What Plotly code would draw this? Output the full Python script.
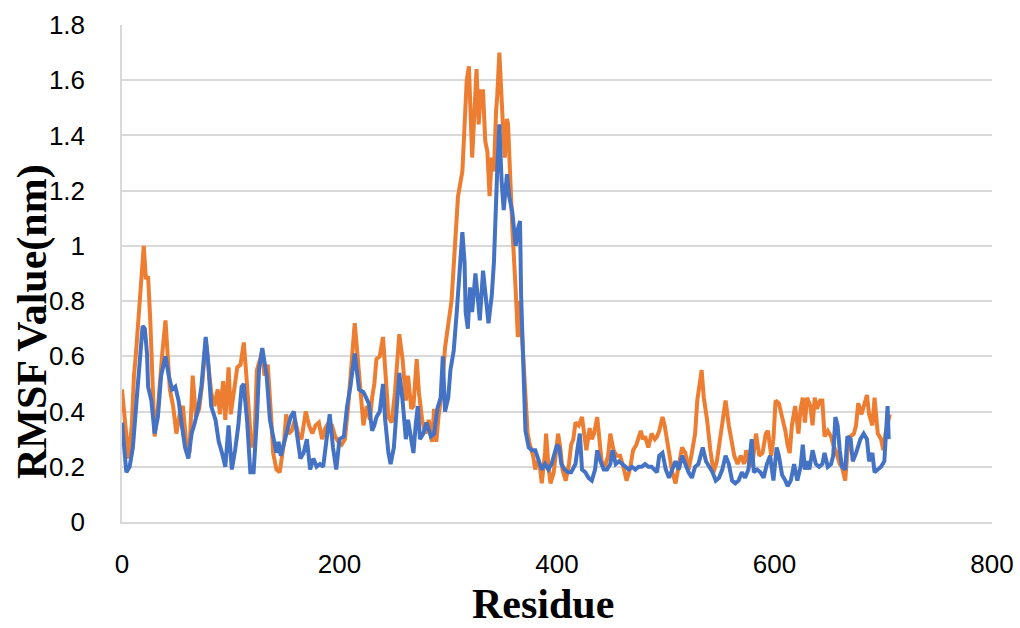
import plotly.graph_objects as go

# ---------------- data ----------------
res_blue = [0, 3, 4, 7, 10, 13, 17, 19, 21, 23, 24, 27, 30, 33, 36, 40, 43, 46, 49, 52, 55, 58, 61, 64, 67, 70, 73, 77, 79, 82, 86, 89, 92, 95, 98, 101, 104, 107, 110, 112, 113, 115, 118, 121, 124, 126, 129, 131, 133, 136, 139, 142, 144, 146, 148, 151, 155, 158, 161, 164, 167, 170, 173, 176, 179, 182, 185, 188, 191, 194, 197, 200, 204, 207, 210, 214, 218, 222, 227, 230, 232, 234, 237, 240, 242, 245, 247, 250, 253, 255, 258, 261, 263, 265, 268, 270, 272, 274, 277, 280, 284, 287, 290, 293, 295, 297, 300, 302, 305, 308, 311, 313, 315, 316, 318, 320, 322, 325, 327, 329, 332, 334, 337, 340, 342, 345, 347, 349, 351, 354, 356, 359, 362, 364, 366, 367, 369, 371, 374, 377, 380, 383, 386, 389, 392, 395, 398, 400, 402, 404, 407, 410, 413, 417, 419, 421, 423, 426, 429, 432, 435, 437, 440, 443, 446, 449, 451, 454, 457, 460, 463, 466, 469, 472, 475, 478, 481, 484, 487, 490, 492, 494, 497, 500, 503, 506, 509, 512, 515, 518, 521, 524, 527, 530, 534, 537, 540, 543, 546, 549, 552, 555, 558, 561, 564, 567, 570, 573, 576, 579, 581, 584, 587, 590, 593, 596, 599, 602, 604, 607, 610, 612, 615, 618, 621, 624, 626, 628, 630, 632, 635, 638, 641, 644, 646, 649, 652, 654, 656, 658, 660, 662, 665, 667, 670, 672, 675, 679, 682, 685, 687, 690, 692, 695, 698, 701, 703, 704, 705]
rmsf_blue = [0.36, 0.20, 0.18, 0.20, 0.27, 0.42, 0.61, 0.71, 0.70, 0.61, 0.49, 0.44, 0.32, 0.38, 0.53, 0.60, 0.53, 0.48, 0.49, 0.44, 0.35, 0.27, 0.23, 0.32, 0.36, 0.41, 0.49, 0.67, 0.59, 0.42, 0.37, 0.29, 0.25, 0.20, 0.35, 0.19, 0.26, 0.35, 0.49, 0.50, 0.45, 0.37, 0.18, 0.18, 0.37, 0.55, 0.63, 0.57, 0.53, 0.37, 0.30, 0.25, 0.29, 0.24, 0.27, 0.32, 0.38, 0.40, 0.31, 0.23, 0.25, 0.30, 0.19, 0.23, 0.20, 0.21, 0.20, 0.31, 0.39, 0.27, 0.19, 0.30, 0.31, 0.42, 0.49, 0.61, 0.48, 0.47, 0.43, 0.33, 0.35, 0.38, 0.40, 0.50, 0.37, 0.25, 0.21, 0.27, 0.42, 0.54, 0.44, 0.30, 0.37, 0.32, 0.25, 0.35, 0.42, 0.30, 0.32, 0.36, 0.31, 0.32, 0.41, 0.45, 0.60, 0.40, 0.45, 0.55, 0.62, 0.77, 0.96, 1.05, 0.94, 0.76, 0.70, 0.85, 0.76, 0.90, 0.82, 0.73, 0.91, 0.82, 0.72, 0.82, 0.94, 1.27, 1.44, 1.24, 1.13, 1.26, 1.18, 1.12, 1.00, 1.06, 1.09, 0.82, 0.57, 0.33, 0.27, 0.26, 0.26, 0.22, 0.19, 0.21, 0.19, 0.21, 0.25, 0.28, 0.27, 0.21, 0.19, 0.18, 0.18, 0.21, 0.27, 0.32, 0.19, 0.18, 0.16, 0.15, 0.19, 0.26, 0.22, 0.19, 0.19, 0.21, 0.26, 0.21, 0.22, 0.21, 0.20, 0.19, 0.20, 0.19, 0.20, 0.20, 0.21, 0.20, 0.20, 0.19, 0.18, 0.24, 0.25, 0.19, 0.16, 0.19, 0.22, 0.19, 0.24, 0.21, 0.18, 0.16, 0.20, 0.21, 0.27, 0.22, 0.20, 0.18, 0.15, 0.16, 0.19, 0.24, 0.21, 0.15, 0.14, 0.15, 0.18, 0.16, 0.19, 0.30, 0.18, 0.19, 0.18, 0.16, 0.21, 0.24, 0.15, 0.27, 0.24, 0.17, 0.15, 0.13, 0.15, 0.21, 0.15, 0.20, 0.28, 0.19, 0.22, 0.19, 0.26, 0.21, 0.20, 0.21, 0.25, 0.20, 0.21, 0.24, 0.38, 0.35, 0.26, 0.20, 0.19, 0.31, 0.30, 0.22, 0.25, 0.30, 0.32, 0.30, 0.22, 0.25, 0.18, 0.19, 0.20, 0.22, 0.36, 0.42, 0.30]

res_orange = [0, 3, 6, 9, 11, 13, 16, 18, 20, 22, 24, 26, 28, 30, 33, 36, 37, 40, 42, 44, 47, 50, 53, 56, 59, 62, 65, 68, 71, 74, 77, 79, 82, 85, 88, 90, 93, 95, 98, 100, 103, 106, 109, 112, 114, 116, 119, 122, 124, 127, 129, 131, 134, 137, 139, 142, 145, 149, 151, 153, 156, 159, 162, 165, 169, 172, 175, 178, 181, 184, 187, 190, 193, 196, 199, 202, 205, 208, 211, 214, 216, 218, 220, 222, 225, 228, 230, 232, 234, 237, 240, 242, 245, 248, 251, 255, 258, 261, 263, 266, 268, 271, 273, 276, 279, 282, 285, 287, 289, 291, 294, 297, 300, 303, 306, 309, 313, 315, 317, 319, 321, 322, 324, 326, 328, 330, 332, 334, 336, 338, 340, 342, 344, 345, 347, 349, 350, 352, 354, 355, 357, 359, 362, 364, 366, 367, 369, 371, 373, 375, 378, 380, 382, 384, 386, 389, 390, 392, 394, 397, 399, 401, 403, 405, 408, 411, 413, 415, 417, 420, 423, 425, 427, 430, 432, 434, 437, 439, 441, 444, 447, 449, 452, 455, 458, 461, 464, 467, 470, 473, 477, 479, 481, 484, 487, 490, 492, 494, 497, 499, 503, 506, 509, 512, 515, 518, 521, 524, 527, 529, 531, 533, 535, 538, 541, 544, 547, 550, 553, 555, 558, 560, 563, 566, 569, 572, 574, 577, 580, 583, 586, 589, 592, 594, 597, 599, 601, 604, 607, 610, 612, 614, 616, 619, 622, 624, 626, 628, 630, 633, 635, 637, 639, 642, 644, 646, 649, 652, 654, 657, 660, 662, 665, 667, 670, 673, 675, 677, 680, 682, 685, 687, 690, 692, 695, 698, 700, 702, 704, 706]
rmsf_orange = [0.48, 0.35, 0.23, 0.35, 0.53, 0.62, 0.79, 0.88, 1.00, 0.88, 0.89, 0.73, 0.47, 0.31, 0.41, 0.59, 0.61, 0.73, 0.61, 0.48, 0.42, 0.32, 0.39, 0.42, 0.29, 0.25, 0.53, 0.38, 0.41, 0.51, 0.66, 0.57, 0.47, 0.42, 0.48, 0.39, 0.51, 0.37, 0.56, 0.39, 0.47, 0.56, 0.57, 0.65, 0.55, 0.42, 0.27, 0.32, 0.55, 0.59, 0.62, 0.53, 0.57, 0.39, 0.25, 0.19, 0.18, 0.29, 0.39, 0.32, 0.33, 0.37, 0.32, 0.30, 0.40, 0.35, 0.32, 0.35, 0.36, 0.30, 0.34, 0.36, 0.35, 0.31, 0.29, 0.28, 0.30, 0.42, 0.59, 0.72, 0.63, 0.53, 0.42, 0.35, 0.42, 0.37, 0.45, 0.50, 0.59, 0.60, 0.67, 0.55, 0.38, 0.36, 0.47, 0.68, 0.59, 0.44, 0.53, 0.41, 0.42, 0.59, 0.47, 0.37, 0.32, 0.37, 0.29, 0.41, 0.29, 0.38, 0.47, 0.63, 0.72, 0.80, 0.99, 1.18, 1.27, 1.48, 1.60, 1.65, 1.42, 1.32, 1.48, 1.64, 1.44, 1.56, 1.56, 1.38, 1.34, 1.18, 1.32, 1.27, 1.49, 1.54, 1.70, 1.50, 1.46, 1.32, 1.46, 1.44, 1.20, 1.06, 0.84, 0.67, 0.80, 0.73, 0.57, 0.45, 0.32, 0.28, 0.24, 0.19, 0.22, 0.21, 0.14, 0.25, 0.32, 0.21, 0.14, 0.18, 0.24, 0.32, 0.27, 0.19, 0.15, 0.21, 0.28, 0.30, 0.36, 0.35, 0.38, 0.32, 0.26, 0.34, 0.30, 0.32, 0.38, 0.30, 0.22, 0.20, 0.24, 0.32, 0.26, 0.24, 0.24, 0.20, 0.15, 0.19, 0.26, 0.28, 0.33, 0.30, 0.31, 0.27, 0.32, 0.30, 0.31, 0.33, 0.38, 0.35, 0.24, 0.18, 0.14, 0.20, 0.27, 0.25, 0.19, 0.25, 0.32, 0.44, 0.51, 0.55, 0.45, 0.37, 0.26, 0.18, 0.22, 0.30, 0.38, 0.44, 0.35, 0.30, 0.24, 0.21, 0.24, 0.21, 0.26, 0.20, 0.22, 0.32, 0.24, 0.25, 0.32, 0.33, 0.24, 0.30, 0.44, 0.43, 0.38, 0.33, 0.28, 0.25, 0.35, 0.42, 0.32, 0.41, 0.45, 0.36, 0.45, 0.42, 0.35, 0.45, 0.41, 0.44, 0.44, 0.31, 0.33, 0.31, 0.28, 0.25, 0.21, 0.20, 0.15, 0.25, 0.31, 0.32, 0.35, 0.43, 0.39, 0.42, 0.46, 0.39, 0.35, 0.45, 0.32, 0.30, 0.26, 0.32, 0.35, 0.39]

x_ticks = [0, 200, 400, 600, 800]
y_ticks = [0, 0.2, 0.4, 0.6, 0.8, 1, 1.2, 1.4, 1.6, 1.8]
x_title = "Residue"
y_title = "RMSF Value(nm)"

BLUE = "#4472C4"
ORANGE = "#ED7D31"

fig = go.Figure()
fig.add_trace(go.Scatter(x=res_orange, y=rmsf_orange, mode="lines",
                         line=dict(color=ORANGE, width=4), name="Series 2",
                         showlegend=False))
fig.add_trace(go.Scatter(x=res_blue, y=rmsf_blue, mode="lines",
                         line=dict(color=BLUE, width=4), name="Series 1",
                         showlegend=False))

tick_font = dict(family="Liberation Sans", size=26, color="#000000")

fig.update_layout(
    width=1020, height=628,
    margin=dict(l=122, r=28, t=25, b=106, autoexpand=False),
    paper_bgcolor="white", plot_bgcolor="white",
    xaxis=dict(range=[0, 800], tickvals=x_ticks, showgrid=False,
               showline=True, linecolor="#D9D9D9", linewidth=1.5,
               zeroline=False, ticks="", tickfont=tick_font,
               ticklabelstandoff=18, automargin=False),
    yaxis=dict(range=[0, 1.8], tickvals=y_ticks,
               ticktext=[("%g" % v) for v in y_ticks],
               showgrid=True, gridcolor="#D9D9D9", gridwidth=1.5,
               showline=True, linecolor="#D9D9D9", linewidth=1.5,
               zeroline=False, ticks="", tickfont=tick_font,
               ticklabelstandoff=30, automargin=False),
    annotations=[
        dict(text="<b>%s</b>" % x_title, xref="paper", yref="paper",
             x=(543 - 122) / 870, y=-(604 - 522) / 497, xanchor="center",
             yanchor="middle", showarrow=False,
             font=dict(family="Liberation Serif", size=42, color="#000000")),
        dict(text="<b>%s</b>" % y_title, xref="paper", yref="paper",
             x=-(122 - 32) / 870, y=(522 - 322) / 497, xanchor="center",
             yanchor="middle", textangle=-90, showarrow=False,
             font=dict(family="Liberation Serif", size=42, color="#000000")),
    ],
)

fig.write_html("out.html")
